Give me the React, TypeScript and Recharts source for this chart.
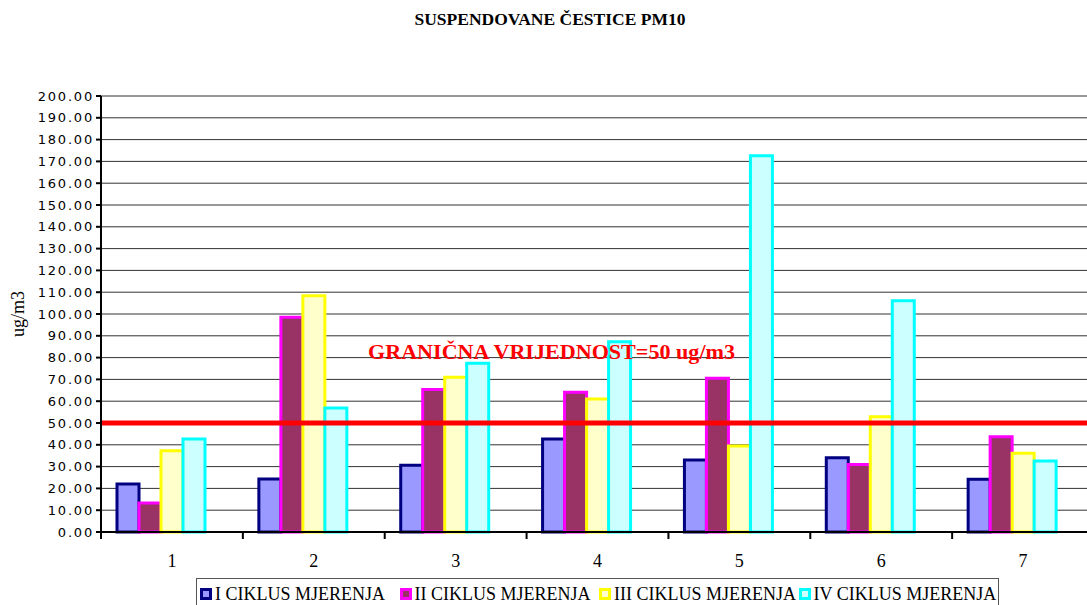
import React from 'react'
import { BarChart, Bar, XAxis, YAxis, CartesianGrid, ReferenceLine } from 'recharts'

const categories = ['1', '2', '3', '4', '5', '6', '7']
const ciklus1 = [22.0, 24.3, 30.6, 42.7, 33.0, 34.1, 24.2]
const ciklus2 = [13.3, 98.5, 65.4, 64.1, 70.5, 31.0, 43.7]
const ciklus3 = [37.3, 108.4, 71.0, 61.0, 39.4, 52.9, 36.1]
const ciklus4 = [42.7, 56.9, 77.4, 87.3, 172.6, 106.1, 32.6]
const yTicks = [0, 10, 20, 30, 40, 50, 60, 70, 80, 90, 100, 110, 120, 130, 140, 150, 160, 170, 180, 190, 200]
const limit = 50
const limitLabel = 'GRANIČNA VRIJEDNOST=50 ug/m3'

const series = [
  { key: 'c1', name: 'I CIKLUS MJERENJA', fill: '#9999FF', stroke: '#000080' },
  { key: 'c2', name: 'II CIKLUS MJERENJA', fill: '#993366', stroke: '#FF00FF' },
  { key: 'c3', name: 'III CIKLUS MJERENJA', fill: '#FFFFCC', stroke: '#FFFF00' },
  { key: 'c4', name: 'IV CIKLUS MJERENJA', fill: '#CCFFFF', stroke: '#00FFFF' },
]

const data = categories.map((c, i) => ({
  name: c,
  c1: ciklus1[i],
  c2: ciklus2[i],
  c3: ciklus3[i],
  c4: ciklus4[i],
}))

const W = 1100
const H = 605
const margin = { top: 96, right: 6, bottom: 43, left: 0 }
const yAxisWidth = 101
const band = (W - margin.left - margin.right - yAxisWidth) / categories.length

const serif = '"Liberation Serif", "Times New Roman", serif'

function CategoryTick(props: any) {
  const { x, y, payload, index } = props
  return (
    <g>
      {index === 0 && <line x1={x - band / 2} y1={y - 8} x2={x - band / 2} y2={y - 1} stroke="#000" strokeWidth={2} />}
      <line x1={x + band / 2} y1={y - 8} x2={x + band / 2} y2={y - 1} stroke="#000" strokeWidth={2} />
      <text x={x} y={y + 27} textAnchor="middle" fontFamily={serif} fontSize={18} fill="#000">
        {payload.value}
      </text>
    </g>
  )
}

export default function App() {
  return (
    <div style={{ position: 'absolute', left: 0, top: 0, width: 1087, height: 605, overflow: 'hidden', background: '#fff' }}>
      <div style={{ position: 'absolute', left: 0, top: 9, width: 1100, textAlign: 'center', fontFamily: serif, fontWeight: 'bold', fontSize: 17.5 }}>
        SUSPENDOVANE ČESTICE PM10
      </div>
      <div style={{ position: 'absolute', left: 18, top: 314, transform: 'translate(-50%, -50%) rotate(-90deg)', fontFamily: serif, fontSize: 18, whiteSpace: 'nowrap' }}>
        ug/m3
      </div>
      <BarChart width={W} height={H} data={data} margin={margin} barSize={22} barGap={0}>
        <CartesianGrid vertical={false} stroke="#333" strokeWidth={1} />
        <XAxis
          dataKey="name"
          height={30}
          axisLine={{ stroke: '#000', strokeWidth: 2 }}
          tickLine={false}
          tick={<CategoryTick />}
          interval={0}
        />
        <YAxis
          width={yAxisWidth}
          domain={[0, 200]}
          ticks={yTicks}
          interval={0}
          tickFormatter={(v: number) => v.toFixed(2)}
          axisLine={{ stroke: '#000', strokeWidth: 2 }}
          tickLine={{ stroke: '#000', strokeWidth: 2 }}
          tickSize={5}
          tick={{ fill: '#000', fontFamily: '"DejaVu Sans", Verdana, sans-serif', fontSize: 13, letterSpacing: 1.8 }}
        />
        {series.map((s) => (
          <Bar
            key={s.key}
            dataKey={s.key}
            name={s.name}
            fill={s.fill}
            stroke={s.stroke}
            strokeWidth={3}
            isAnimationActive={false}
          />
        ))}
        {/* empty fifth slot, like the original spreadsheet layout */}
        <Bar dataKey="empty" legendType="none" isAnimationActive={false} />
        <ReferenceLine
          y={limit}
          stroke="#FF0000"
          strokeWidth={5}
          label={(p: any) => (
            <text
              x={p.viewBox.x + 267}
              y={p.viewBox.y - 64}
              fill="#FF0000"
              fontFamily={serif}
              fontWeight="bold"
              fontSize={20}
              textLength={367}
              lengthAdjust="spacingAndGlyphs"
            >
              {limitLabel}
            </text>
          )}
        />
      </BarChart>
      <div
        style={{
          position: 'absolute',
          left: 196,
          top: 578,
          width: 803,
          height: 32,
          border: '1px solid #555',
          boxSizing: 'border-box',
          display: 'flex',
          alignItems: 'center',
          fontFamily: serif,
          fontSize: 18,
          paddingLeft: 3,
        }}
      >
        {series.map((s) => (
          <div key={s.key} style={{ display: 'flex', alignItems: 'center', width: 201, whiteSpace: 'nowrap' }}>
            <span
              style={{
                display: 'inline-block',
                width: 6,
                height: 6,
                background: s.fill,
                border: `3px solid ${s.stroke}`,
                marginRight: 3,
              }}
            />
            {s.name}
          </div>
        ))}
      </div>
    </div>
  )
}
